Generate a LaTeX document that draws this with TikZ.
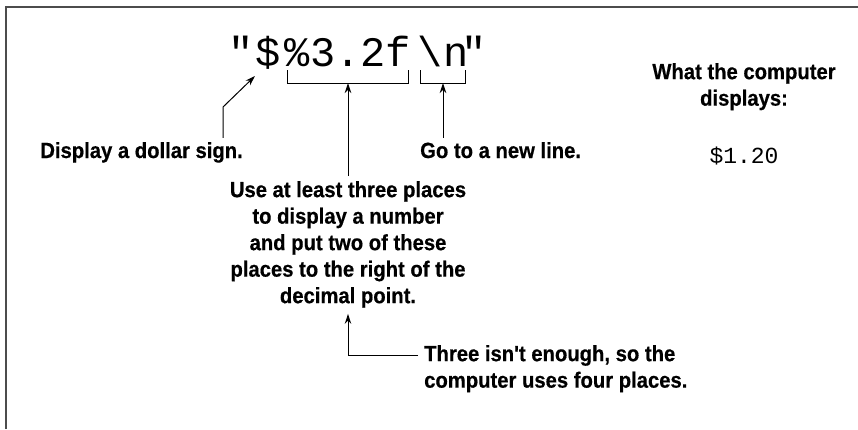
\documentclass[tikz,border=0pt]{standalone}
\usepackage{fontspec}
\newfontfamily\lblfont{Liberation Sans}[FakeStretch=0.92, BoldFeatures={FakeStretch=0.92, FakeBold=0.5}]
\setmonofont{Liberation Mono}
\usetikzlibrary{arrows.meta,calc}
\begin{document}
\begin{tikzpicture}[x=1pt,y=-1pt,
 lbl/.style={font=\fontsize{22}{26.5}\selectfont\lblfont\bfseries, inner sep=0pt, align=center},
 code/.style={font=\fontsize{42}{42}\selectfont\ttfamily, inner sep=0pt, anchor=base},
 outp/.style={font=\fontsize{23}{23}\selectfont\ttfamily, inner sep=0pt},
 arr/.style={-{Stealth[length=10pt,width=6.5pt]}, line width=1pt},
 brk/.style={line width=1pt}]
\useasboundingbox (0,0) rectangle (858,429);
\draw[line width=1.5pt, gray!60!black] (6,429) -- (6,7) -- (858,7);
% format string
\node[code] (qa) at (241,66) {"};
\node[code] (dl) at (268,66) {\$};
\node[code] (fmt) at (348,66) {\%3.2f};
\node[code] (nl) at (443,66) {\textbackslash n};
\node[code] (qb) at (474,66) {"};
% brackets
\draw[brk] ($(fmt.base west)+(3,4)$) -- ($(fmt.base west)+(3,17)$) -- ($(fmt.base east)+(-3,17)$) -- ($(fmt.base east)+(-3,4)$);
\draw[brk] ($(nl.base west)+(3,4)$) -- ($(nl.base west)+(3,17)$) -- ($(nl.base east)+(-3,17)$) -- ($(nl.base east)+(-3,4)$);
\coordinate (b1) at ($(fmt.base)+(0,17)$);
\coordinate (b2) at ($(nl.base)+(0,17)$);
% labels
\node[lbl, anchor=base east] (dollar) at (243,158) {Display a dollar sign.};
\node[lbl, anchor=base west] (newline) at (420,158) {Go to a new line.};
\node[lbl, anchor=north] (use) at (348,181) {Use at least three places\\ to display a number\\ and put two of these\\ places to the right of the\\ decimal point.};
\node[lbl, anchor=north west, align=left] (three) at (424,345) {Three isn't enough, so the\\ computer uses four places.};
\node[lbl, anchor=north] (what) at (744,63) {What the computer\\ displays:};
\node[outp, anchor=base] (res) at (744,163) {\$1.20};
% arrows
\coordinate (delbow) at (223,107);
\coordinate (dtip) at (255,76);
\draw[arr] ([yshift=4pt]delbow |- dollar.north) -- (delbow) -- (dtip);
\draw[arr] ([yshift=5pt]use.north) -- (b1);
\draw[arr] ([yshift=4pt]b2 |- newline.north) -- (b2);
\draw[arr, shorten >=6pt] ($(three.north west)+(-6,10)$) -| (use.south);
\end{tikzpicture}
\end{document}
